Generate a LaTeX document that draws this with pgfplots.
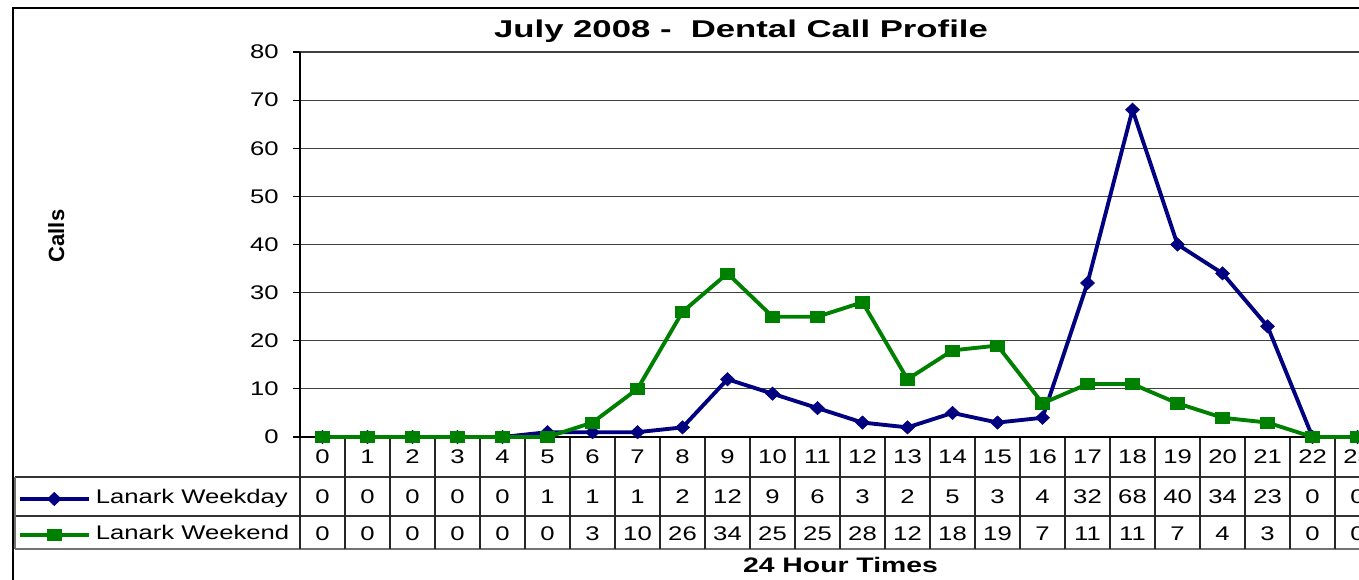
\documentclass[border=0pt]{standalone}
\usepackage{pgfplots}
\pgfplotsset{compat=1.18}
\usepackage{pgfplotstable}
\usepackage{fontspec}
\setmainfont{Liberation Sans}
\newfontfamily\tabf{Liberation Sans}[FakeStretch=1.3]
\newfontfamily\titf{Liberation Sans}[FakeStretch=1.43]
\newfontfamily\labf{Liberation Sans}[FakeStretch=1.35]
\newcommand{\tabfs}{\tabf\fontsize{14.8}{16}\selectfont}
\definecolor{wdc}{RGB}{0,0,128}
\definecolor{wec}{RGB}{0,128,0}
\pgfplotstableread{
h wd we
0 0 0
1 0 0
2 0 0
3 0 0
4 0 0
5 1 0
6 1 3
7 1 10
8 2 26
9 12 34
10 9 25
11 6 25
12 3 28
13 2 12
14 5 18
15 3 19
16 4 7
17 32 11
18 68 11
19 40 7
20 34 4
21 23 3
22 0 0
23 0 0
}\data
\begin{document}
\begin{tikzpicture}
\useasboundingbox (0,0) rectangle (1019.25pt,-435pt);
\clip (0,0) rectangle (1019.25pt,-435pt);
\fill[white] (0,0) rectangle (1019.25pt,-435pt);
\begin{scope}[x=0.75pt,y=-0.75pt]
\draw[line width=1.4pt] (13,8) rectangle (1420,620);
\draw[black!80, line width=1pt] (15,477) -- (1420,477);
\draw[black!80, line width=1pt] (15,516) -- (1420,516);
\draw[black!55, line width=1.1pt] (15,549) -- (1420,549);
\draw[black!55, line width=1.1pt] (15,477) -- (15,549);
\foreach \k in {0,...,24}{
  \draw[black!85, line width=1pt] ({300+45*\k},437) -- ({300+45*\k},549);
}
\end{scope}
\begin{axis}[
  at={(225pt,-327.75pt)}, anchor=south west,
  scale only axis, width=810pt, height=288.75pt,
  xmin=-0.5, xmax=23.5, ymin=0, ymax=80,
  clip=false,
  axis x line*=bottom, axis y line*=left,
  axis line style={-, black, line width=1.1pt},
  xtick=\empty,
  ytick={0,10,...,80},
  ymajorgrids, major grid style={black!75, line width=0.9pt},
  tick align=outside, major tick length=5pt,
  ytick style={black, line width=0.9pt},
  yticklabel style={font=\tabfs, /pgf/number format/assume math mode=true, text=black, xshift=-7.5pt},
]
\addplot[wdc, line width=2.9pt, mark=diamond*, mark size=5pt, mark options={xscale=1.4, solid, line width=0.4pt}] table[x=h,y=wd]{\data};
\addplot[wec, line width=2.9pt, mark=square*, mark size=4.2pt, mark options={xscale=1.25, solid, line width=0.4pt}] table[x=h,y=we]{\data};
% legend keys in the data table
\addplot[wdc, line width=2.9pt, mark=diamond*, mark size=5pt, mark repeat=2, mark phase=2, mark options={xscale=1.4, solid, line width=0.4pt}] coordinates {(-6.72,-12.88) (-5.96,-12.88) (-5.19,-12.88)};
\addplot[wec, line width=2.9pt, mark=square*, mark size=4.2pt, mark repeat=2, mark phase=2, mark options={xscale=1.25, solid, line width=0.4pt}] coordinates {(-6.72,-20.36) (-5.96,-20.36) (-5.19,-20.36)};
% data table rows
\addplot[only marks, mark=*, mark size=0pt, mark options={draw=none, fill=none}, nodes near coords, point meta=explicit symbolic,
  every node near coord/.append style={anchor=center, inner sep=0pt, font=\tabfs, text=black}] table[x=h, y expr=-4.02, meta=h]{\data};
\addplot[only marks, mark=*, mark size=0pt, mark options={draw=none, fill=none}, nodes near coords, point meta=explicit symbolic,
  every node near coord/.append style={anchor=center, inner sep=0pt, font=\tabfs, text=black}] table[x=h, y expr=-12.40, meta=wd]{\data};
\addplot[only marks, mark=*, mark size=0pt, mark options={draw=none, fill=none}, nodes near coords, point meta=explicit symbolic,
  every node near coord/.append style={anchor=center, inner sep=0pt, font=\tabfs, text=black}] table[x=h, y expr=-20.01, meta=we]{\data};
\end{axis}
\begin{scope}[x=0.75pt,y=-0.75pt]
\node[anchor=base, inner sep=0pt] at (741,37.3) {\titf\fontsize{18.2}{20}\selectfont\bfseries July 2008 -\ \ Dental Call Profile};
\node[anchor=base, inner sep=0pt] at (840.5,572.7) {\labf\fontsize{15.75}{18}\selectfont\bfseries 24 Hour Times};
\node[anchor=base, inner sep=0pt, rotate=90] at (64,236) {\fontsize{16.5}{18}\selectfont\bfseries Calls};
\node[anchor=base west, inner sep=0pt] at (95.5,503.3) {\tabfs Lanark Weekday};
\node[anchor=base west, inner sep=0pt] at (95.5,539.3) {\tabfs Lanark Weekend};
\end{scope}
\end{tikzpicture}
\end{document}
